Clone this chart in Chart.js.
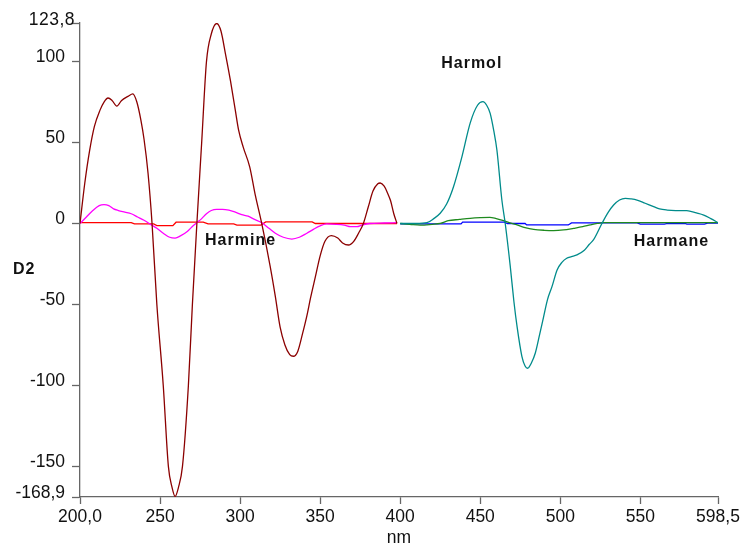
<!DOCTYPE html>
<html>
<head>
<meta charset="utf-8">
<script src="https://cdn.jsdelivr.net/npm/chart.js@4/dist/chart.umd.min.js"></script>
<style>
  html, body { margin: 0; padding: 0; background: #fff; }
  #wrap { width: 743px; height: 546px; }
</style>
</head>
<body>
<div id="wrap"><canvas id="chart" width="743" height="546"></canvas></div>
<script>
// ─── Data ──────────────────────────────────────────
const X_TICKS = [200, 250, 300, 350, 400, 450, 500, 550, 598.5];
const Y_TICKS = [-168.9, -150, -100, -50, 0, 50, 100, 123.8];

// dark red, 200–400 nm
const darkRedNm = [200, 203, 206, 209, 212.5, 215, 217.5, 220, 223, 226, 230, 233, 235.5, 238, 240, 242.5, 245,
  248, 252, 255.2, 257.5, 259.4, 261.5, 264, 267.7, 270.2, 273, 276, 279, 282, 285.4, 288, 291, 294, 297, 299,
  302, 306, 309.6, 313.5, 318.7, 322, 325, 328, 331, 333.3, 336, 339, 341.7, 344, 347, 350, 353, 357, 361, 364,
  367.7, 371, 374, 377, 380, 383, 386, 387.5, 390, 392, 394, 396, 398];
const darkRedD2 = [0, 25, 45, 60, 70, 75, 77.5, 76, 72.5, 76, 78.5, 80, 75, 64, 52, 31, 0,
  -50, -100, -150, -163, -168.5, -163, -150, -100, -50, 0, 50, 100, 117, 123.5, 119, 104, 88, 70, 58,
  47, 35, 17, 0, -26, -45, -64, -75, -81, -82, -79, -68, -57, -46, -33, -20, -11, -7.5, -9, -12,
  -13.3, -11, -6, 0, 10, 20, 24.5, 25, 23, 19, 14, 6, 0];

// magenta, 200–400 nm
const magentaNm = [200, 204, 208, 212, 215, 218, 221, 224, 228, 232, 236, 240, 244.8, 248, 252, 256, 259.4, 263,
  267, 270, 273, 276, 279, 282, 285.4, 289, 293, 297, 301, 305, 309, 313.5, 318, 322, 327, 332.3, 337, 341.7,
  346, 350, 354, 360, 365, 369, 373, 376, 381, 390, 398];
const magentaD2 = [0, 4, 8, 11, 11.6, 11, 9, 8, 7, 6, 4, 2, -1, -3, -6, -8.5, -9, -7.5,
  -5, -2, 0.5, 3, 6, 8, 8.7, 8.7, 8.2, 7, 5.5, 4.5, 2.5, 0.5, -3, -6, -8.5, -9.6, -8.5, -6,
  -3.5, -1.5, -0.3, -0.5, -1, -2, -2, -1, 0, 0.3, 0.5];

// red, 200–400 nm (near zero)
const redNm = [200, 232, 234, 246, 248, 258, 260, 277, 280, 296, 298, 313, 316, 345, 347, 398];
const redD2 = [0.5, 0.5, -0.3, -0.3, -1.3, -1.3, 0.8, 0.8, -0.3, -0.3, -1, -1, 1, 1, 0, 0];

// teal, 400–598.5 nm
const tealNm = [400, 410, 416.7, 421, 425, 429, 433.3, 438.5, 443.7, 448.3, 451.7, 454, 456.2, 458.5, 460.4,
  463.5, 465.6, 468.7, 471, 473, 476, 478, 479.6, 482, 484.4, 487, 489.6, 492, 494.8, 498, 501, 504, 507,
  510.4, 515, 518, 520.8, 526, 530, 533.3, 537, 540.6, 544, 547.9, 553, 558.3, 562, 566.7, 572, 579, 585,
  589.6, 594, 598.5];
const tealD2 = [0, 0, 0.5, 3, 6.3, 12, 22.7, 41, 62, 73, 75.2, 73, 68, 57, 45.4,
  14.5, 0, -26, -48, -63.7, -82, -88, -89.4, -86, -80, -69, -57.5, -47, -39, -28.7, -24, -21.5, -20.5,
  -19.4, -16.5, -13, -10, 0, 7, 11.4, 14.5, 15.5, 15.2, 14.5, 12.5, 10.4, 9, 8.3, 8, 7.9, 6.5,
  5.2, 3, 0.5];

// green, 400–598.5 nm
const greenNm = [400, 406, 412.5, 420, 425, 430, 437, 443.7, 450, 456, 460, 464.6, 468, 473, 478, 483.3, 490,
  495.8, 502, 508.3, 514, 518.7, 523, 527, 598.5];
const greenD2 = [0, -0.5, -1, -0.5, 0, 1.7, 2.5, 3.2, 3.6, 3.8, 3, 1.7, 0.5, -0.9, -2.5, -3.6, -4.2,
  -4.4, -4, -3, -2, -0.9, 0, 0.5, 0.5];

// blue, 400–598.5 nm (near zero)
const blueNm = [400, 438, 439, 465, 467, 478, 479, 505, 507, 548, 550, 565, 567, 578, 579, 590, 592, 598.5];
const blueD2 = [-0.3, -0.3, 0.8, 0.8, 0, 0, -0.9, -0.9, 0.4, 0.4, -0.4, -0.4, 0, 0, -0.4, -0.4, 0.2, 0.2];

// text labels inside the plot, anchored in data units
const NOTES = [
  { text: 'Harmine', nm: 300.3, d2: -10.8 },
  { text: 'Harmol', nm: 444.7, d2: 99 },
  { text: 'Harmane', nm: 569.4, d2: -11.4 }
];

// ─── Helpers ───────────────────────────────────────
const pts = (xs, ys) => xs.map((x, i) => ({ x, y: ys[i] }));
const fmt = (v, lo, hi) => (v === lo || v === hi) ? v.toFixed(1).replace('.', ',') : String(v);
const AXIS = '#666';
const FONT = "'Liberation Sans', Arial, sans-serif";

function line(label, data, color, smooth) {
  return {
    label, data, borderColor: color, borderWidth: 1.3,
    pointRadius: 0, fill: false,
    tension: smooth ? 0.4 : 0,
    cubicInterpolationMode: smooth ? 'monotone' : 'default'
  };
}

const textPlugin = {
  id: 'texts',
  afterDraw(chart) {
    const { ctx, scales: { x, y } } = chart;
    ctx.save();
    ctx.fillStyle = '#111';
    ctx.textBaseline = 'middle';

    // top tick label sits a little right of the others
    ctx.font = '17.5px ' + FONT;
    ctx.letterSpacing = '0.5px';
    ctx.textAlign = 'right';
    ctx.fillText('123,8', 75, 20);

    ctx.letterSpacing = '0px';
    ctx.textAlign = 'center';
    ctx.fillText('nm', (x.left + x.right) / 2, 538);

    ctx.font = 'bold 16px ' + FONT;
    ctx.letterSpacing = '1px';
    ctx.textAlign = 'left';
    ctx.fillText('D2', 13, 270);

    ctx.textAlign = 'center';
    NOTES.forEach(n => ctx.fillText(n.text, x.getPixelForValue(n.nm), y.getPixelForValue(n.d2)));
    ctx.restore();
  }
};

// ─── Chart ─────────────────────────────────────────
new Chart(document.getElementById('chart'), {
  type: 'line',
  data: {
    datasets: [
      line('teal', pts(tealNm, tealD2), '#008b8b', true),
      line('dark red', pts(darkRedNm, darkRedD2), '#8b0000', true),
      line('green', pts(greenNm, greenD2), '#1f8a1f', true),
      line('magenta', pts(magentaNm, magentaD2), '#ff00ff', true),
      line('blue', pts(blueNm, blueD2), '#0000ff', false),
      line('red', pts(redNm, redD2), '#ff0000', false)
    ]
  },
  options: {
    responsive: false,
    animation: false,
    layout: { padding: { left: 0, right: 25, top: 23, bottom: 0 } },
    plugins: { legend: { display: false }, tooltip: { enabled: false } },
    scales: {
      x: {
        type: 'linear', min: 200, max: 598.5,
        afterBuildTicks: s => { s.ticks = X_TICKS.map(v => ({ value: v })); },
        afterFit: s => { s.height = 49; },
        grid: { drawOnChartArea: false, tickLength: 7, tickColor: AXIS, tickWidth: 1.3 },
        border: { color: AXIS, width: 1.3 },
        ticks: {
          autoSkip: false, maxRotation: 0, padding: 3, color: '#111',
          font: { family: FONT, size: 17.5 },
          callback: v => fmt(v, 200, 598.5)
        }
      },
      y: {
        type: 'linear', min: -168.9, max: 123.8,
        afterBuildTicks: s => { s.ticks = Y_TICKS.map(v => ({ value: v })); },
        afterFit: s => { s.width = 80; },
        grid: { drawOnChartArea: false, tickLength: 8, tickColor: AXIS, tickWidth: 1.3 },
        border: { color: AXIS, width: 1.3 },
        ticks: {
          autoSkip: false, padding: 7, labelOffset: -4, color: '#111',
          font: { family: FONT, size: 17.5 },
          callback: v => v === 123.8 ? '' : fmt(v, -168.9, 123.8)
        }
      }
    }
  },
  plugins: [textPlugin]
});
</script>
</body>
</html>
